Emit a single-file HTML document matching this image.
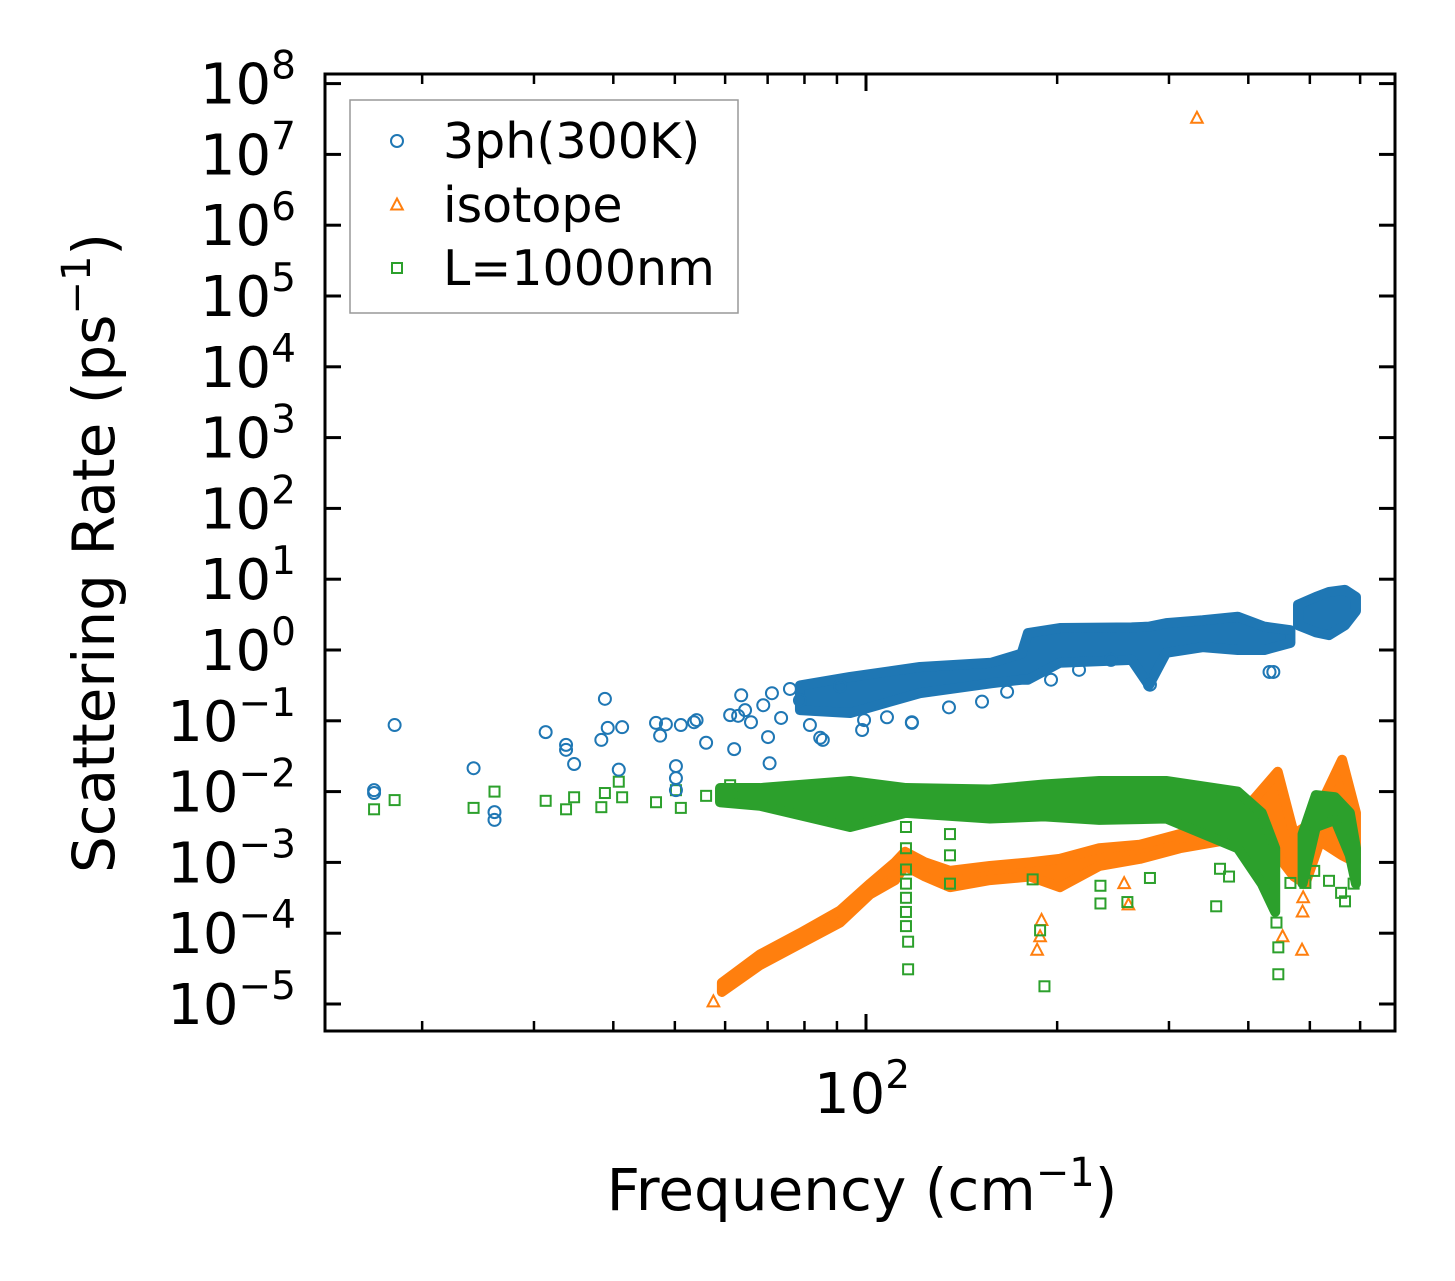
<!DOCTYPE html>
<html><head><meta charset="utf-8"><style>
html,body{margin:0;padding:0;background:#fff;}
svg{display:block;font-family:"DejaVu Sans","Liberation Sans",sans-serif;}
</style></head><body>
<svg id="chart" width="1455" height="1281" viewBox="0 0 1455 1281">
<rect x="0" y="0" width="1455" height="1281" fill="#fff"/>
<g id="marks"></g>
<g id="axes"></g>
</svg>
<script>
// ---- data ----
const xTickMajor = [100];
const xTickMinor = [20,30,40,50,60,70,80,90,200,300,400,500,600];
const yTickExps = [-5,-4,-3,-2,-1,0,1,2,3,4,5,6,7,8];
// 3ph (300K): sparse points  [freq], [log10 rate]
const phFreq = [16.8,16.8,18.1,24.1,26.0,26.0,31.3,33.7,33.7,34.7,38.3,38.8,39.2,40.8,41.3,46.7,47.4,48.4,50.2,50.2,50.2,51.1,53.6,54.1,56.0,61.1,62.0,62.9,63.6,64.5,65.9,68.9,70.1,70.5,71.1,73.5,75.9,78.7,81.6,84.7,85.5,91.0,98.6,99.3,107.9,118.1,118.1,135.1,152.3,166.8,195.6,216.5,243.1,280,432,438];
const phRate = [-1.98,-2.02,-1.06,-1.67,-2.29,-2.40,-1.16,-1.34,-1.41,-1.61,-1.27,-0.69,-1.10,-1.69,-1.09,-1.03,-1.21,-1.05,-1.64,-1.81,-1.98,-1.06,-1.02,-0.99,-1.31,-0.92,-1.40,-0.93,-0.64,-0.85,-1.02,-0.78,-1.23,-1.60,-0.61,-0.96,-0.55,-0.71,-1.06,-1.24,-1.27,-0.51,-1.13,-0.99,-0.95,-1.03,-1.02,-0.81,-0.73,-0.59,-0.42,-0.28,-0.14,-0.49,-0.31,-0.31];
// 3ph dense band envelope
const phBandFreq = [78.7,94.4,121.6,157.4,175.8,179.9,202,262,279,297,339,385,424,466];
const phBandLo = [-0.85,-0.89,-0.61,-0.47,-0.42,-0.42,-0.18,-0.14,-0.5,-0.04,0.04,0.0,0.0,0.10];
const phBandHi = [-0.5,-0.38,-0.24,-0.18,-0.05,0.24,0.31,0.32,0.33,0.38,0.42,0.47,0.33,0.28];
const phClusterFreq = [479,511,536,568,591];
const phClusterLo = [0.35,0.25,0.21,0.35,0.55];
const phClusterHi = [0.64,0.75,0.82,0.85,0.75];
// isotope
const isoFreq = [57.5,186,188,189,255,259,453,486,487,488,332];
const isoRate = [-4.97,-4.24,-4.05,-3.82,-3.3,-3.6,-4.05,-4.24,-3.70,-3.50,7.51];
const isoBandFreq = [59.3,68.1,78.7,91.0,101.5,111.1,115.2,123.9,135.6,156.7,181.3,202,233,270,312,361,409,445,472,492,519,562,591];
const isoBandLo = [-4.83,-4.45,-4.15,-3.85,-3.45,-3.25,-3.05,-3.2,-3.35,-3.25,-3.2,-3.35,-3.05,-2.95,-2.8,-2.7,-2.6,-2.9,-3.2,-3.3,-2.7,-2.9,-3.0];
const isoBandHi = [-4.70,-4.30,-4.00,-3.68,-3.30,-3.00,-2.85,-3.0,-3.12,-3.05,-3.0,-2.95,-2.8,-2.75,-2.6,-2.5,-2.1,-1.72,-2.6,-2.5,-2.2,-1.55,-2.3];
// L=1000nm
const bndFreq = [16.8,18.1,24.1,26.0,31.3,33.7,34.7,38.3,38.8,40.8,41.3,46.7,50.2,51.1,56.0,61.1,63.6,115.6,115.6,115.6,115.6,115.6,115.6,115.6,116.5,116.5,135.6,135.6,135.6,183,188,191,234,234,258,280,356,361,373,446,446,443,466,492,508,536,568,560,586];
const bndRate = [-2.25,-2.12,-2.23,-2.0,-2.13,-2.25,-2.08,-2.22,-2.02,-1.86,-2.08,-2.15,-1.98,-2.23,-2.06,-1.91,-2.05,-2.5,-2.8,-3.1,-3.3,-3.5,-3.7,-3.9,-4.12,-4.51,-2.6,-2.9,-3.3,-3.24,-3.96,-4.75,-3.33,-3.58,-3.56,-3.22,-3.62,-3.09,-3.20,-4.58,-4.2,-3.85,-3.29,-3.29,-3.12,-3.26,-3.55,-3.43,-3.30];
const bndBandFreq = [58.9,68.1,94.4,115.6,156.7,190.6,233,297,385,420,441];
const bndBandLo = [-2.15,-2.2,-2.5,-2.3,-2.38,-2.35,-2.4,-2.38,-2.8,-3.3,-3.7];
const bndBandHi = [-1.95,-1.95,-1.85,-1.95,-1.97,-1.9,-1.85,-1.85,-2.0,-2.3,-2.8];
const bndHumpFreq = [487,511,548,578,591];
const bndHumpLo = [-3.3,-2.5,-2.4,-2.9,-3.3];
const bndHumpHi = [-2.6,-2.05,-2.08,-2.3,-2.8];

// ---- scales ----
const L=325,R=1395,T=74,B=1031;
function X(f){return 866+635*Math.log10(f/100);}
function Y(lg){return 650-70.8*lg;}
const NS="http://www.w3.org/2000/svg";
const marks=document.getElementById('marks');
const axes=document.getElementById('axes');
function mk(tag,attrs,parent){const e=document.createElementNS(NS,tag);for(const k in attrs)e.setAttribute(k,attrs[k]);parent.appendChild(e);return e;}
const C1='#1f77b4',C2='#ff7f0e',C3='#2ca02c';

function band(fr,lo,hi,color,name){
  let pts=[];
  for(let i=0;i<fr.length;i++)pts.push(X(fr[i])+','+Y(hi[i]));
  for(let i=fr.length-1;i>=0;i--)pts.push(X(fr[i])+','+Y(lo[i]));
  const p=mk('polygon',{points:pts.join(' '),fill:color,stroke:color,'stroke-width':10,'stroke-linejoin':'round'},marks);
  
  
}
function circle(cx,cy,name,parent){
  const c=mk('circle',{cx:cx,cy:cy,r:6,fill:'none',stroke:C1,'stroke-width':2},parent||marks);
  
  
}
function tri(cx,cy,name,parent){
  const t=mk('polygon',{points:(cx)+','+(cy-6.5)+' '+(cx-5.8)+','+(cy+4.5)+' '+(cx+5.8)+','+(cy+4.5),fill:'none',stroke:C2,'stroke-width':2},parent||marks);
  
  
}
function sq(cx,cy,name,parent){
  const s=mk('rect',{x:cx-5,y:cy-5,width:10,height:10,fill:'none',stroke:C3,'stroke-width':2},parent||marks);
  
  
}
// isotope
band(isoBandFreq,isoBandLo,isoBandHi,C2,'isotope-band');
for(let i=0;i<isoFreq.length;i++)tri(X(isoFreq[i]),Y(isoRate[i]),'isotope-point');
// boundary
band(bndBandFreq,bndBandLo,bndBandHi,C3,'boundary-band');
band(bndHumpFreq,bndHumpLo,bndHumpHi,C3,'boundary-hump');
for(let i=0;i<bndFreq.length;i++)sq(X(bndFreq[i]),Y(bndRate[i]),'boundary-point');
// 3ph
band(phBandFreq,phBandLo,phBandHi,C1,'3ph-band');
band(phClusterFreq,phClusterLo,phClusterHi,C1,'3ph-cluster');
for(let i=0;i<phFreq.length;i++)circle(X(phFreq[i]),Y(phRate[i]),'3ph-point');

// ---- axes ----
const frame=mk('rect',{x:L,y:T,width:R-L,height:B-T,fill:'none',stroke:'#000','stroke-width':3},axes);


for(const e of yTickExps){
  const y=Y(e);
  mk('line',{x1:L,x2:L+16,y1:y,y2:y,stroke:'#000','stroke-width':3},axes);
  mk('line',{x1:R,x2:R-16,y1:y,y2:y,stroke:'#000','stroke-width':3},axes);
  const t=mk('text',{x:296,y:y+20,'text-anchor':'end','font-size':56,fill:'#000'},axes);
  
  
  const a=document.createElementNS(NS,'tspan');a.textContent='10';t.appendChild(a);
  const b=document.createElementNS(NS,'tspan');b.setAttribute('dy','-25');b.setAttribute('font-size','39');b.textContent=(e<0?'\u2212'+(-e):''+e);t.appendChild(b);
}
for(const f of xTickMajor){
  const x=X(f);
  mk('line',{x1:x,x2:x,y1:B,y2:B-17,stroke:'#000','stroke-width':3},axes);
  mk('line',{x1:x,x2:x,y1:T,y2:T+17,stroke:'#000','stroke-width':3},axes);
  const t=mk('text',{x:x-4,y:1113,'text-anchor':'middle','font-size':56,fill:'#000'},axes);
  
  
  const a=document.createElementNS(NS,'tspan');a.textContent='10';t.appendChild(a);
  const b=document.createElementNS(NS,'tspan');b.setAttribute('dy','-25');b.setAttribute('font-size','39');b.textContent='2';t.appendChild(b);
}
for(const f of xTickMinor){
  const x=X(f);
  mk('line',{x1:x,x2:x,y1:B,y2:B-10,stroke:'#000','stroke-width':2.5},axes);
  mk('line',{x1:x,x2:x,y1:T,y2:T+10,stroke:'#000','stroke-width':2.5},axes);
}
// axis titles
const xt=mk('text',{x:862,y:1210,'text-anchor':'middle','font-size':58,fill:'#000'},axes);


xt.innerHTML='Frequency (cm<tspan dy="-24" font-size="40">\u22121</tspan><tspan dy="24">)</tspan>';
const yt=mk('text',{x:0,y:0,'text-anchor':'middle','font-size':58,fill:'#000',transform:'translate(114,553) rotate(-90)'},axes);


yt.innerHTML='Scattering Rate (ps<tspan dy="-24" font-size="40">\u22121</tspan><tspan dy="24">)</tspan>';
// legend
const lg=mk('g',{},axes);


mk('rect',{x:350,y:100,width:388,height:213,fill:'#fff',stroke:'#999','stroke-width':1.5},lg);
const labels=['3ph(300K)','isotope','L=1000nm'];
const ly=[141,205,268];
circle(397,ly[0],'legend-marker-3ph',lg);
tri(397,ly[1],'legend-marker-isotope',lg);
sq(397,ly[2],'legend-marker-boundary',lg);
for(let i=0;i<3;i++){
  const t=mk('text',{x:443,y:ly[i]+17,'font-size':49,fill:'#000'},lg);
  
  
  t.textContent=labels[i];
}
</script>
</body></html>
